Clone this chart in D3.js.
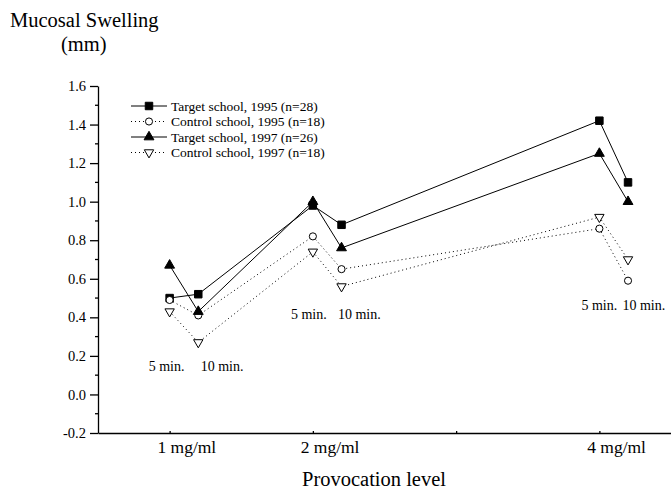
<!DOCTYPE html>
<html>
<head>
<meta charset="utf-8">
<script src="https://cdn.jsdelivr.net/npm/d3@7"></script>
<style>
  body { margin: 0; background: #fff; }
  text { font-family: "Liberation Serif", "Times New Roman", serif; fill: #000; }
</style>
</head>
<body>
<div id="chart"></div>
<script>
// ---- data ----
const levels = [1, 2, 4];
const levelLabels = ["1 mg/ml", "2 mg/ml", "4 mg/ml"];
const times = ["5 min.", "10 min."];
const seriesNames = [
  "Target school, 1995 (n=28)",
  "Control school, 1995 (n=18)",
  "Target school, 1997 (n=26)",
  "Control school, 1997 (n=18)"
];
// values per level: [5 min, 10 min]
const target1995 = [[0.50, 0.52], [0.98, 0.88], [1.42, 1.10]];
const control1995 = [[0.49, 0.41], [0.82, 0.65], [0.86, 0.59]];
const target1997 = [[0.67, 0.43], [1.00, 0.76], [1.25, 1.00]];
const control1997 = [[0.43, 0.27], [0.74, 0.56], [0.92, 0.70]];
const yTicks = [-0.2, 0.0, 0.2, 0.4, 0.6, 0.8, 1.0, 1.2, 1.4, 1.6];
const xTicks = [1, 2, 3, 4];

const W = 671, H = 492;
const svg = d3.select("#chart").append("svg").attr("width", W).attr("height", H);

const x = d3.scaleLinear().domain([0.5, 4.5]).range([98, 671]);
const y = d3.scaleLinear().domain([-0.2, 1.6]).range([433, 86]);
const timeOffset = 0.2; // 10 min point sits a bit right of the 5 min one

// ---- axes ----
const yAxis = d3.axisLeft(y).tickValues(yTicks).tickSize(8).tickSizeOuter(0).tickPadding(4)
  .tickFormat(d => d.toFixed(1));
const gy = svg.append("g").attr("transform", `translate(${x(0.5)},0)`).call(yAxis);
gy.selectAll("text").attr("font-size", "14.5px").attr("font-family", "Liberation Serif");
gy.selectAll("line, path").attr("stroke", "#000").attr("stroke-width", 1.3);
// minor ticks
const minor = d3.range(-0.1, 1.6, 0.2);
svg.append("g").selectAll("line").data(minor).join("line")
  .attr("x1", x(0.5) - 3).attr("x2", x(0.5))
  .attr("y1", d => y(d)).attr("y2", d => y(d))
  .attr("stroke", "#000").attr("stroke-width", 1.3);

const xAxis = d3.axisBottom(x).tickValues(xTicks).tickSize(-2).tickSizeOuter(0).tickFormat("");
const gx = svg.append("g").attr("transform", `translate(0,${y(-0.2)})`).call(xAxis);
gx.selectAll("line, path").attr("stroke", "#000").attr("stroke-width", 1.3);

svg.append("g").selectAll("text").data(levels).join("text")
  .attr("x", d => x(d + 0.12)).attr("y", y(-0.2) + 20)
  .attr("text-anchor", "middle").attr("font-size", "17.5px")
  .text((d, i) => levelLabels[i]);

svg.append("text").attr("x", 374).attr("y", 486).attr("text-anchor", "middle")
  .attr("font-size", "20.5px").text("Provocation level");
svg.append("text").attr("x", 10).attr("y", 27).attr("font-size", "20.5px").text("Mucosal Swelling");
svg.append("text").attr("x", 61).attr("y", 51).attr("font-size", "20.5px").text("(mm)");

// ---- series ----
const allSeries = [
  { name: seriesNames[0], values: target1995, dash: null, symbol: d3.symbolSquare, size: 56, fill: "#000", rot: 0 },
  { name: seriesNames[1], values: control1995, dash: "1,3", symbol: d3.symbolCircle, size: 40, fill: "#fff", rot: 0 },
  { name: seriesNames[2], values: target1997, dash: null, symbol: d3.symbolTriangle, size: 42, fill: "#000", rot: 0 },
  { name: seriesNames[3], values: control1997, dash: "1,3", symbol: d3.symbolTriangle, size: 38, fill: "#fff", rot: 180 }
];

function points(s) {
  const pts = [];
  levels.forEach((lv, i) => {
    s.values[i].forEach((v, j) => pts.push({ x: lv + j * timeOffset, v: v }));
  });
  return pts;
}

const line = d3.line().x(d => x(d.x)).y(d => y(d.v));

allSeries.forEach(s => {
  svg.append("path").datum(points(s)).attr("d", line)
    .attr("fill", "none").attr("stroke", "#000").attr("stroke-width", 1)
    .attr("stroke-dasharray", s.dash);
});
allSeries.forEach(s => {
  svg.append("g").selectAll("path").data(points(s)).join("path")
    .attr("d", d3.symbol(s.symbol, s.size))
    .attr("transform", d => `translate(${x(d.x)},${y(d.v)}) rotate(${s.rot})`)
    .attr("fill", s.fill).attr("stroke", "#000").attr("stroke-width", 1);
});

// ---- time annotations ----
const notes = [
  { lv: 1, v: 0.12, dx: [-21, 31] },
  { lv: 2, v: 0.39, dx: [-22, 25] },
  { lv: 4, v: 0.44, dx: [-18, 23] }
];
notes.forEach(n => {
  times.forEach((t, j) => {
    svg.append("text").attr("x", x(n.lv) + n.dx[j]).attr("y", y(n.v))
      .attr("font-size", "14px").text(t);
  });
});

// ---- legend ----
const legend = svg.append("g").attr("transform", "translate(131,106)");
allSeries.forEach((s, i) => {
  const g = legend.append("g").attr("transform", `translate(0,${i * 15.5})`);
  g.append("line").attr("x1", 0).attr("x2", 36).attr("y1", 0).attr("y2", 0)
    .attr("stroke", "#000").attr("stroke-width", 1).attr("stroke-dasharray", s.dash);
  g.append("path").attr("d", d3.symbol(s.symbol, s.size))
    .attr("transform", `translate(18,0) rotate(${s.rot})`)
    .attr("fill", s.fill).attr("stroke", "#000");
  g.append("text").attr("x", 40).attr("y", 4.5).attr("font-size", "13.5px").text(s.name);
});
</script>
</body>
</html>
